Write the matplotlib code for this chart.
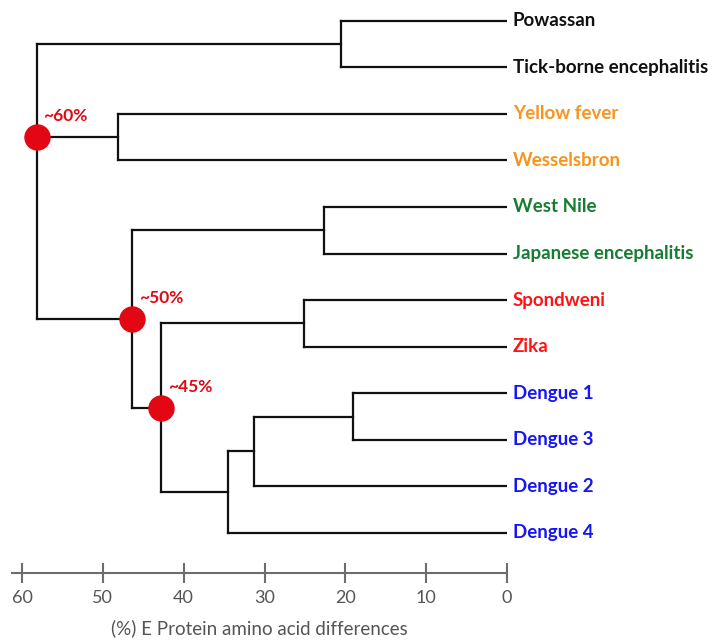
import matplotlib.pyplot as plt

# leaves, top to bottom
leaves = ["Powassan", "Tick-borne encephalitis", "Yellow fever", "Wesselsbron",
          "West Nile", "Japanese encephalitis", "Spondweni", "Zika",
          "Dengue 1", "Dengue 3", "Dengue 2", "Dengue 4"]
leaf_colors = ["#111111", "#111111", "#F7941D", "#F7941D",
               "#167D32", "#167D32", "#FF1414", "#FF1414",
               "#1515F5", "#1515F5", "#1515F5", "#1515F5"]

# internal nodes: name, children, height (% difference)
node_names = ["A", "B", "C", "D", "E", "F", "G", "H", "I", "root"]
node_children = [["Powassan", "Tick-borne encephalitis"],
                 ["Yellow fever", "Wesselsbron"],
                 ["West Nile", "Japanese encephalitis"],
                 ["Spondweni", "Zika"],
                 ["Dengue 1", "Dengue 3"],
                 ["E", "Dengue 2"],
                 ["F", "Dengue 4"],
                 ["D", "G"],
                 ["C", "H"],
                 ["A", "B", "I"]]
node_heights = [20.5, 48.1, 22.6, 25.1, 19.1, 31.3, 34.5, 42.8, 46.4, 58.2]

# highlighted nodes and their labels
marked_nodes = ["root", "I", "H"]
marked_labels = ["~60%", "~50%", "~45%"]

plt.rcParams['font.family'] = ['Lato', 'DejaVu Sans']

fig = plt.figure(figsize=(7.18, 6.41), dpi=100)
ax = fig.add_axes([12 / 718, 68 / 641, 495 / 718, 573 / 641])

ypos = {name: i for i, name in enumerate(leaves)}
xpos = {name: 0.0 for name in leaves}
marker_y = {}

for name, kids, h in zip(node_names, node_children, node_heights):
    ys = [ypos[k] for k in kids]
    for k in kids:
        ax.plot([h, xpos[k]], [ypos[k], ypos[k]], color="#111111", lw=1.6,
                solid_capstyle="projecting", zorder=2)
    ax.plot([h, h], [min(ys), max(ys)], color="#111111", lw=1.6,
            solid_capstyle="projecting", zorder=2)
    if len(kids) == 2:
        ypos[name] = (min(ys) + max(ys)) / 2
        marker_y[name] = ypos[name]
    else:
        ypos[name] = ys[1]
        marker_y[name] = ys[1]
    xpos[name] = h

for name, lab in zip(marked_nodes, marked_labels):
    h = node_heights[node_names.index(name)]
    ax.plot(h, marker_y[name], 'o', color="#E30613", ms=18, zorder=3)
    ax.annotate(lab, (h, marker_y[name]), xytext=(7, 21), textcoords="offset pixels",
                ha="left", va="center", color="#E30613", fontsize=12.5,
                fontweight="bold")

for name, col in zip(leaves, leaf_colors):
    ax.annotate(name, (0, ypos[name]), xytext=(6, 0), textcoords="offset pixels",
                ha="left", va="center", color=col, fontsize=13.5,
                fontweight="bold", annotation_clip=False)

ax.set_xlim(61.24, 0)
ax.set_ylim(11.859, -0.444)
ax.set_xticks([60, 50, 40, 30, 20, 10, 0])
ax.set_yticks([])
for s in ["top", "right", "left"]:
    ax.spines[s].set_visible(False)
ax.spines["bottom"].set_color("#6d6d6d")
ax.spines["bottom"].set_linewidth(1.5)
ax.tick_params(axis="x", direction="inout", length=14, width=1.5,
               color="#6d6d6d", labelcolor="#555555", labelsize=13, pad=5)
ax.set_xlabel("(%) E Protein amino acid differences", color="#555555",
              fontsize=13.5, labelpad=10)

fig.savefig("out.png", dpi=100)
